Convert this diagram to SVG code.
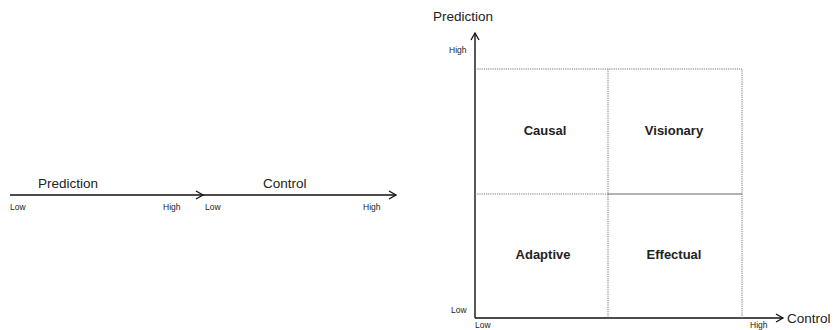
<svg xmlns="http://www.w3.org/2000/svg" width="835" height="330" viewBox="0 0 835 330">
<defs>
<marker id="arr" markerWidth="10" markerHeight="10" refX="8" refY="5" orient="auto" markerUnits="userSpaceOnUse">
<path d="M1,1 L8,5 L1,9" fill="none" stroke="#111" stroke-width="1.3"/>
</marker>
<style>
text{font-family:"Liberation Sans",Arial,sans-serif;fill:#222}
.t{font-size:13.5px}
.s{font-size:8.5px}
.b{font-size:13px;font-weight:bold;text-anchor:middle}
.ax{stroke:#111;stroke-width:1.4;fill:none}
.dot{stroke:#777;stroke-width:1;stroke-dasharray:1.2 1;fill:none}
</style>
</defs>
<rect width="835" height="330" fill="#fff"/>
<g id="connectors">
<line class="ax" x1="10" y1="195" x2="203" y2="195" marker-end="url(#arr)"/>
<line class="ax" x1="203" y1="195" x2="396" y2="195" marker-end="url(#arr)"/>
<line class="ax" x1="475" y1="318" x2="475" y2="33" marker-end="url(#arr)"/>
<line class="ax" x1="475" y1="318" x2="783" y2="318" marker-end="url(#arr)"/>
<polyline class="dot" points="475,69 742,69 742,318"/>
<line class="dot" x1="608" y1="69" x2="608" y2="318"/>
<line class="dot" x1="475" y1="194" x2="608" y2="194"/>
<line x1="608" y1="194" x2="742" y2="194" stroke="#666" stroke-width="1"/>
</g>
<g id="linear">
<text class="t" x="38" y="188">Prediction</text>
<text class="t" x="263" y="188">Control</text>
<text class="s" x="10" y="210">Low</text>
<text class="s" x="163" y="210">High</text>
<text class="s" x="205" y="210">Low</text>
<text class="s" x="363" y="210">High</text>
</g>
<g id="axes-labels">
<text class="t" x="433" y="21">Prediction</text>
<text class="t" x="787" y="323">Control</text>
<text class="s" x="449" y="53">High</text>
<text class="s" x="451" y="313">Low</text>
<text class="s" x="475" y="327.5">Low</text>
<text class="s" x="750" y="327.5">High</text>
</g>
<g id="causal"><text class="b" x="545" y="135">Causal</text></g>
<g id="visionary"><text class="b" x="674" y="135">Visionary</text></g>
<g id="adaptive"><text class="b" x="543" y="259">Adaptive</text></g>
<g id="effectual"><text class="b" x="674" y="259">Effectual</text></g>
</svg>
